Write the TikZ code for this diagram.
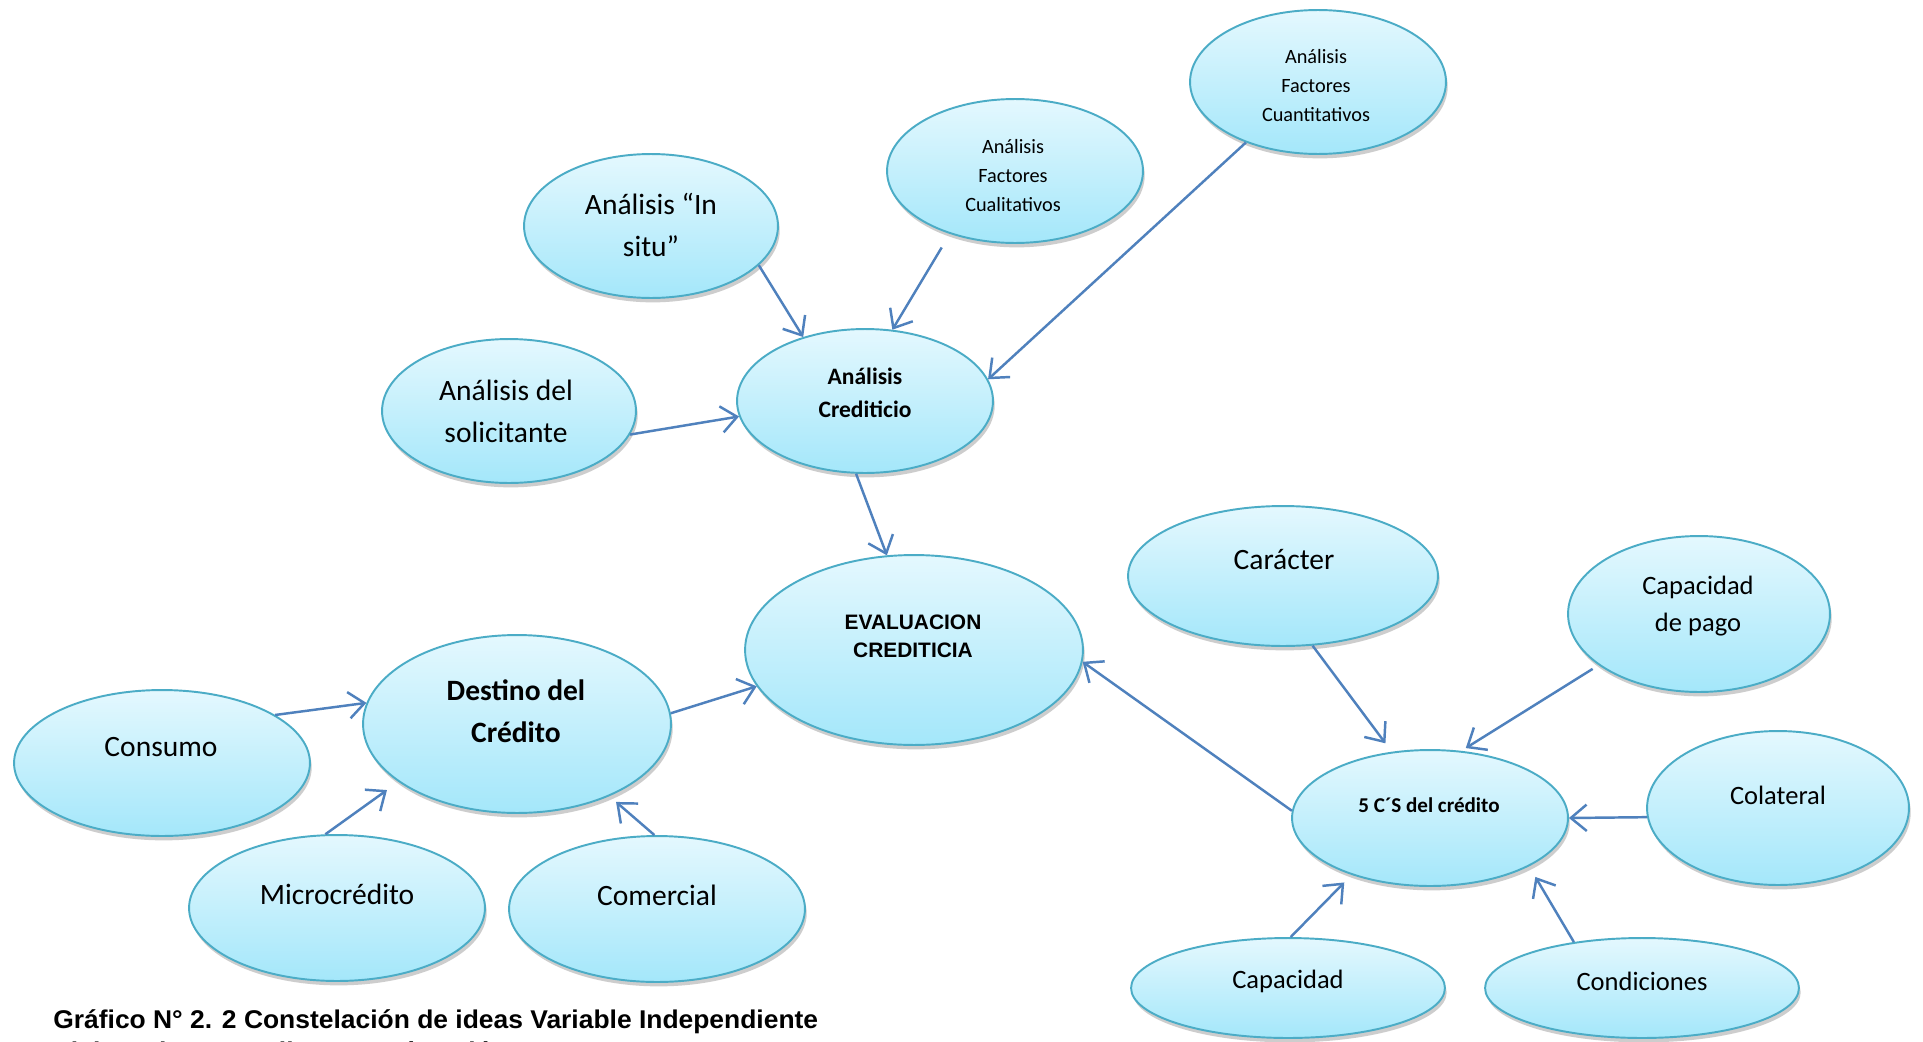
\documentclass[tikz,border=0pt]{standalone}
\usepackage{fontspec}
\setmainfont{Carlito}
\newfontfamily\arialfont{Liberation Sans}
\newfontfamily\capfont[FakeStretch=1.03]{Liberation Sans}
\usetikzlibrary{arrows.meta,shapes.geometric,shadows}
\definecolor{edgeC}{RGB}{75,172,198}
\definecolor{topC}{RGB}{228,248,254}
\definecolor{botC}{RGB}{164,231,250}
\definecolor{arrC}{RGB}{79,129,189}
\tikzset{
  bub/.style 2 args={ellipse, draw=edgeC, line width=1.1pt, top color=topC, bottom color=botC,
    minimum width=#1*0.04cm, minimum height=#2*0.04cm, inner sep=0pt,
    drop shadow={opacity=0.28, shadow xshift=1pt, shadow yshift=-2.5pt, fill=black!70}},
  txt/.style={align=center, inner sep=0pt, text=black},
  tbig/.style={txt, font=\fontsize{16.8pt}{23.9pt}\selectfont},
  tbigb/.style={txt, font=\fontsize{16.8pt}{23.9pt}\selectfont\bfseries},
  tmed/.style={txt, font=\fontsize{15.1pt}{21pt}\selectfont},
  tsmall/.style={txt, font=\fontsize{11.55pt}{16.5pt}\selectfont},
  tcred/.style={txt, font=\fontsize{13.4pt}{18.8pt}\selectfont\bfseries},
  tcs/.style={txt, font=\fontsize{12pt}{16pt}\selectfont\bfseries},
  teval/.style={txt, font=\arialfont\bfseries\fontsize{11.9pt}{15.9pt}\selectfont},
  tcap/.style={inner sep=0pt, anchor=base west, font=\capfont\bfseries\fontsize{14.6pt}{17pt}\selectfont},
  arr/.style={draw=arrC, line width=1.4pt, -{Straight Barb[length=9pt,width=15pt]}}
}
\begin{document}
\begin{tikzpicture}[x=0.02cm,y=-0.02cm]
\useasboundingbox (0,0) rectangle (1923,1041);
\fill[white] (0,0) rectangle (1923,1041);
\begin{scope}
\clip (0,0) rectangle (1923,1041);
% ellipses
\node[bub={128}{72}] (cuant) at (1318,82) {};
\node[bub={128}{72}] (cual) at (1015,171) {};
\node[bub={127}{72}] (insitu) at (651,226) {};
\node[bub={127}{72}] (solic) at (509,411) {};
\node[bub={128}{72}] (cred) at (865,401) {};
\node[bub={169}{95}] (eval) at (914,650) {};
\node[bub={154}{89}] (dest) at (517,724) {};
\node[bub={148}{73}] (cons) at (162,763) {};
\node[bub={148}{73}] (micro) at (337,908) {};
\node[bub={148}{73}] (comer) at (657,909) {};
\node[bub={155}{70}] (carac) at (1283,576) {};
\node[bub={131}{78}] (cpago) at (1699,614) {};
\node[bub={138}{68}] (cs) at (1430,818) {};
\node[bub={131}{77}] (colat) at (1778,808) {};
\node[bub={157}{50}] (capac) at (1288,988) {};
\node[bub={157}{50}] (cond) at (1642,988) {};
% texts
\node[tsmall] (cuant-t) at (1316,86) {Análisis\\Factores\\Cuantitativos};
\node[tsmall] (cual-t) at (1013,176) {Análisis\\Factores\\Cualitativos};
\node[tbig] (insitu-t) at (651,225) {Análisis “In\\situ”};
\node[tbig] (solic-t) at (506,411) {Análisis del\\solicitante};
\node[tcred] (cred-t) at (865,393) {Análisis\\Crediticio};
\node[teval] (eval-t) at (913,636) {EVALUACION\\CREDITICIA};
\node[tbigb] (dest-t) at (516,711) {Destino del\\Crédito};
\node[tbig] (cons-t) at (161,747) {Consumo};
\node[tbig] (micro-t) at (337,894) {Microcrédito};
\node[tbig] (comer-t) at (657,895) {Comercial};
\node[tbig] (carac-t) at (1284,560) {Carácter};
\node[tmed] (cpago-t) at (1698,606) {Capacidad\\de pago};
\node[tcs] (cs-t) at (1429,805) {5 C´S del crédito};
\node[tmed] (colat-t) at (1778,795) {Colateral};
\node[tmed] (capac-t) at (1288,981) {Capacidad};
\node[tmed] (cond-t) at (1642,981) {Condiciones};
% connectors
\draw[arr] (insitu.-20) -- (cred.134);
\draw[arr, shorten <=9pt] (cual.224) -- (cred.69);
\draw[arr] (cuant.220) -- (cred.10);
\draw[arr] (solic.-11) -- (cred.187);
\draw[arr] (cred.263) -- (eval.106);
\draw[arr] (dest.4) -- (eval.193);
\draw[arr] (cons.23) -- (dest.172);
\draw[arr, shorten >=8pt] (micro.99) -- (dest.206);
\draw[arr, shorten >=5pt] (comer.92) -- (dest.-38);
\draw[arr] (cs.177) -- (eval.-4);
\draw[arr, shorten >=6pt] (carac.-67) -- (cs.120);
\draw[arr, shorten <=4pt, shorten >=3pt] (cpago.207) -- (cs.65);
\draw[arr] (colat.184) -- (cs.0);
\draw[arr, shorten >=6pt] (capac.87) -- (cs.216);
\draw[arr, shorten >=7pt] (cond.146) -- (cs.-26);
% caption
\node[tcap] (cap1) at (53,1028) {Gráfico N° 2. 2 Constelación de ideas Variable Independiente};
\node[tcap] (cap2) at (53,1060) {Elaborado por: Erika G. María Belén};
\end{scope}
\end{tikzpicture}
\end{document}
